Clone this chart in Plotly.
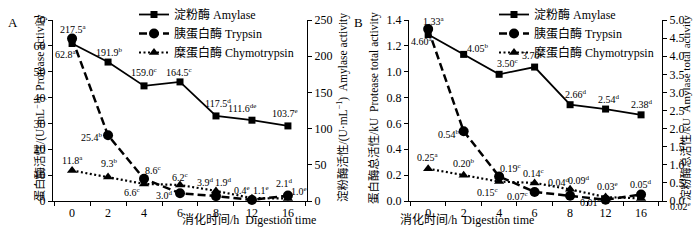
import plotly.graph_objects as go

# ---------------- data ----------------
times = ["0", "2", "4", "6", "8", "12", "16"]

# Panel A: activity (U/mL)
amylase_A = [217.5, 191.9, 159.0, 164.5, 117.5, 111.6, 103.7]
trypsin_A = [62.8, 25.4, 8.6, 3.0, 1.9, 0.4, 2.1]
chymo_A = [11.8, 9.3, 6.6, 6.2, 3.9, 1.1, 1.0]
amylase_A_sig = ["a", "b", "c", "c", "d", "de", "e"]
trypsin_A_sig = ["a", "b", "c", "d", "d", "e", "d"]
chymo_A_sig = ["a", "b", "c", "c", "d", "e", "e"]

# Panel B: total activity (kU)
amylase_B = [4.60, 4.05, 3.50, 3.70, 2.66, 2.54, 2.38]
trypsin_B = [1.33, 0.54, 0.19, 0.07, 0.04, 0.01, 0.05]
chymo_B = [0.25, 0.20, 0.15, 0.14, 0.09, 0.03, 0.02]
amylase_B_sig = ["a", "b", "c", "c", "d", "d", "d"]
trypsin_B_sig = ["a", "b", "c", "c", "d", "e", "d"]
chymo_B_sig = ["a", "b", "c", "c", "d", "e", "e"]

names = ["淀粉酶 Amylase", "胰蛋白酶 Trypsin", "糜蛋白酶 Chymotrypsin"]

# label offsets (px) : (xshift, yshift)
off_amy_A = [(1, 15), (1, 10), (0, 14), (-1, 10), (2, 13), (-10, 12), (-3, 13)]
off_try_A = [(-6, -15), (-16, -2), (9, 9), (-16, -2), (8, 14), (-10, 10), (-3, 13)]
off_chy_A = [(0, 10), (1, 14), (-12, -8), (0, 8), (-10, 9), (9, 8), (11, 7)]
off_amy_B = [(-6, -7), (14, 6), (8, 11), (-2, 12), (6, 11), (3, 10), (1, 11)]
off_try_B = [(6, 8), (-15, -3), (11, 8), (-17, -4), (-11, 14), (-15, -2), (0, 11)]
off_chy_B = [(0, 12), (0, 12), (-12, -10), (-1, 10), (9, 9), (2, 11), (39, -8)]

FONT = "Times New Roman, Liberation Serif, Noto Sans CJK SC, serif"
W, H = 700, 241
B = 40
PH = H - B          # plot area (paper) height, top margin 0
TOP = 20            # axes top in px
YDOM = [0, (PH - TOP) / PH]

def px_x(p):
    return p / W

def px_y(p):
    return (PH - p) / PH

def cont_y(p):
    return (H - p) / H

fig = go.Figure()

styles = [
    dict(line=dict(color="black", width=1.8, dash="solid"),
         marker=dict(symbol="square", size=7, color="black")),
    dict(line=dict(color="black", width=2.5, dash="8px,4px"),
         marker=dict(symbol="circle", size=10, color="black")),
    dict(line=dict(color="black", width=2.2, dash="2px,2.5px"),
         marker=dict(symbol="triangle-up", size=9, color="black")),
]

def add_panel(series, yaxes, xa, legend):
    for i, (vals, ya) in enumerate(zip(series, yaxes)):
        fig.add_trace(go.Scatter(
            x=times, y=vals, mode="lines+markers", name=names[i],
            xaxis=xa, yaxis=ya, legend=legend, cliponaxis=False,
            **styles[i]))

add_panel([amylase_A, trypsin_A, chymo_A], ["y2", "y", "y"], "x", "legend")
add_panel([amylase_B, trypsin_B, chymo_B], ["y4", "y3", "y3"], "x2", "legend2")

ann = []

def add_labels(vals, sigs, offs, xref, yref, fmt):
    # categorical axis: annotation x given as category index
    for idx, (v, s, (dx, dy)) in enumerate(zip(vals, sigs, offs)):
        ann.append(dict(x=idx, y=v, xref=xref, yref=yref, showarrow=False,
                        text=(fmt % v) + "<sup>" + s + "</sup>",
                        xshift=dx, yshift=dy,
                        font=dict(family=FONT, size=10, color="black")))

add_labels(amylase_A, amylase_A_sig, off_amy_A, "x", "y2", "%.1f")
add_labels(trypsin_A, trypsin_A_sig, off_try_A, "x", "y", "%.1f")
add_labels(chymo_A, chymo_A_sig, off_chy_A, "x", "y", "%.1f")
add_labels(amylase_B, amylase_B_sig, off_amy_B, "x2", "y4", "%.2f")
add_labels(trypsin_B, trypsin_B_sig, off_try_B, "x2", "y3", "%.2f")
add_labels(chymo_B, chymo_B_sig, off_chy_B, "x2", "y3", "%.2f")

def title_ann(text, xp, yp, angle=-90, size=11.5):
    ann.append(dict(x=px_x(xp), y=px_y(yp), xref="paper", yref="paper",
                    showarrow=False, text=text, textangle=angle,
                    font=dict(family=FONT, size=size, color="black")))

sp = "\u00a0\u00a0"
title_ann("蛋白酶活性/(U·mL<sup>−1</sup>)" + sp + "Protease activity", 30, 108)
title_ann("淀粉酶活性/(U·mL<sup>−1</sup>)" + sp + "Amylase activity", 342, 108)
title_ann("蛋白酶总活性/kU" + sp + "Protease total activity", 374, 108)
title_ann("淀粉酶总活性/kU" + sp + "Amylase total activity", 693, 108, size=11)
title_ann("消化时间/h" + sp + "Digestion time", 180, 229, angle=0, size=12)
title_ann("消化时间/h" + sp + "Digestion time", 536, 229, angle=0, size=12)
title_ann("A", 6, 13, angle=0, size=13)
title_ann("B", 358, 13, angle=0, size=13)

axis_common = dict(showgrid=False, zeroline=False, showline=True,
                   linecolor="black", linewidth=1.3, ticks="outside",
                   ticklen=4, tickwidth=1.2, tickcolor="black",
                   tickfont=dict(family=FONT, size=12, color="black"))

legend_common = dict(xanchor="left", yanchor="top", yref="container",
                     bgcolor="rgba(0,0,0,0)", borderwidth=0,
                     font=dict(family=FONT, size=12, color="black"))

fig.update_layout(
    width=W, height=H,
    margin=dict(l=0, r=0, t=0, b=B, autoexpand=False),
    paper_bgcolor="white", plot_bgcolor="white",
    showlegend=True,
    annotations=ann,
    xaxis=dict(type="category", domain=[px_x(53), px_x(307)],
               range=[-0.53, 6.53], tickson="boundaries", anchor="y",
               **axis_common),
    yaxis=dict(range=[0, 70], dtick=10, anchor="x", side="left",
               domain=YDOM, **axis_common),
    yaxis2=dict(range=[0, 250], dtick=50, anchor="x", overlaying="y",
                side="right", **axis_common),
    xaxis2=dict(type="category", domain=[px_x(409), px_x(662)],
                range=[-0.54, 6.59], tickson="boundaries", anchor="y3",
                **axis_common),
    yaxis3=dict(range=[0, 1.4], dtick=0.2, tickformat=".1f", anchor="x2",
                side="left", domain=YDOM, **axis_common),
    yaxis4=dict(range=[0, 5.0], dtick=0.5, tickformat=".1f", anchor="x2",
                overlaying="y3", side="right", **axis_common),
    legend=dict(x=px_x(134), y=cont_y(-17), **legend_common),
    legend2=dict(x=px_x(494), y=cont_y(-17), **legend_common),
)

fig.write_html("out.html",
               post_script="document.body.style.margin='0';",
               config={"displayModeBar": False})
